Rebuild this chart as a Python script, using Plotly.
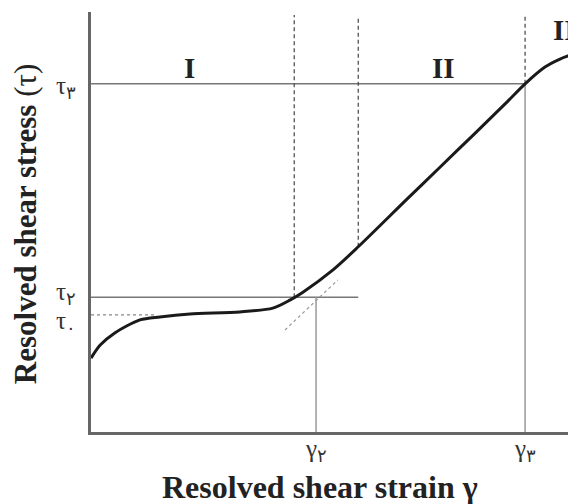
import plotly.graph_objects as go

# Resolved shear stress-strain curve (arbitrary units)
strain = [0, 0.19, 0.49, 1.01, 1.42, 2.04, 3.07, 3.75, 4.10, 4.37, 4.99, 5.51,
          6.52, 7.20, 7.88, 8.58, 8.95, 9.36, 9.67, 10.0]
stress = [1.76, 2.07, 2.36, 2.67, 2.74, 2.81, 2.86, 2.95, 3.14, 3.33, 3.86, 4.41,
          5.55, 6.31, 7.07, 7.86, 8.29, 8.69, 8.88, 9.02]

tau_vals = [2.79, 3.21, 8.29]            # tau0, tau2, tau3
tau_labels = ["τ<sub>۰</sub>", "τ<sub>۲</sub>", "τ<sub>۳</sub>"]
tau_line_end = [1.32, 5.51, 8.95]
gamma_vals = [4.64, 8.95]                # gamma2, gamma3
gamma_labels = ["γ<sub>۲</sub>", "γ<sub>۳</sub>"]
gamma_line_top = [3.21, 8.29]
stage_x = [2.04, 7.26, 9.48]
stage_y = [8.67, 8.67, 9.57]
stage_labels = ["I", "II", "III"]
boundary_x = [4.19, 5.51, 8.95]
boundary_top = [9.93, 9.86, 9.93]
boundary_bottom = [3.21, 4.41, 8.29]
tangent_x = [4.00, 5.09]
tangent_y = [2.43, 3.62]

SERIF = "Liberation Serif, Times New Roman, serif"
fig = go.Figure()

# tau0 dotted level
fig.add_trace(go.Scatter(x=[0, tau_line_end[0]], y=[tau_vals[0]] * 2, mode="lines",
                         line=dict(color="#888", width=1.2, dash="dot"), hoverinfo="skip"))
# tau2 and tau3 solid levels
for i in (1, 2):
    fig.add_trace(go.Scatter(x=[0, tau_line_end[i]], y=[tau_vals[i]] * 2, mode="lines",
                             line=dict(color="#777", width=1.5), hoverinfo="skip"))
# gamma verticals
for gx, gt in zip(gamma_vals, gamma_line_top):
    fig.add_trace(go.Scatter(x=[gx, gx], y=[0, gt], mode="lines",
                             line=dict(color="#999", width=1.5), hoverinfo="skip"))
# stage boundaries (dashed)
for bx, bt, bb in zip(boundary_x, boundary_top, boundary_bottom):
    fig.add_trace(go.Scatter(x=[bx, bx], y=[bb, bt], mode="lines",
                             line=dict(color="#444", width=1.2, dash="4px,3px"), hoverinfo="skip"))
# tangent extrapolation
fig.add_trace(go.Scatter(x=tangent_x, y=tangent_y, mode="lines",
                         line=dict(color="#999", width=1.2, dash="dot"), hoverinfo="skip"))
# main curve
fig.add_trace(go.Scatter(x=strain, y=stress, mode="lines",
                         line=dict(color="#1a1a1a", width=3, shape="spline", smoothing=0.8),
                         hoverinfo="skip"))

ann = []
shifts = [-8, 4, -4]
for v, t, s in zip(tau_vals, tau_labels, shifts):
    ann.append(dict(x=-0.027, xref="paper", y=v, yref="y", text=t, showarrow=False,
                    xanchor="right", yanchor="middle", yshift=s,
                    font=dict(family=SERIF, size=25, color="#333")))
for v, t in zip(gamma_vals, gamma_labels):
    ann.append(dict(x=v, xref="x", y=-0.045, yref="paper", text=t, showarrow=False,
                    xanchor="center", yanchor="middle",
                    font=dict(family=SERIF, size=25, color="#333")))
for sx, sy, t in zip(stage_x, stage_y, stage_labels):
    ann.append(dict(x=sx, y=sy, text="<b>" + t + "</b>", showarrow=False,
                    xanchor="left" if t == "III" else "center", yanchor="middle",
                    font=dict(family=SERIF, size=29, color="#222")))
ann.append(dict(x=0.472, xref="paper", y=-0.131, yref="paper",
                text="<b>Resolved shear strain γ</b>", showarrow=False,
                xanchor="center", yanchor="middle",
                font=dict(family=SERIF, size=32, color="#222")))
ann.append(dict(x=-0.136, xref="paper", y=0.495, yref="paper",
                text="<b>Resolved shear stress</b> (τ)", showarrow=False, textangle=-90,
                xanchor="center", yanchor="middle",
                font=dict(family=SERIF, size=31, color="#222")))

fig.update_layout(
    width=568, height=496,
    margin=dict(l=83, r=0, t=4, b=72),
    paper_bgcolor="white", plot_bgcolor="white",
    showlegend=False,
    annotations=ann,
    xaxis=dict(range=[0, 10], showgrid=False, zeroline=False, showticklabels=False,
               ticks="", showline=True, linecolor="#666", linewidth=3),
    yaxis=dict(range=[0, 10], showgrid=False, zeroline=False, showticklabels=False,
               ticks="", showline=True, linecolor="#666", linewidth=3),
)

fig.write_html("out.html")
